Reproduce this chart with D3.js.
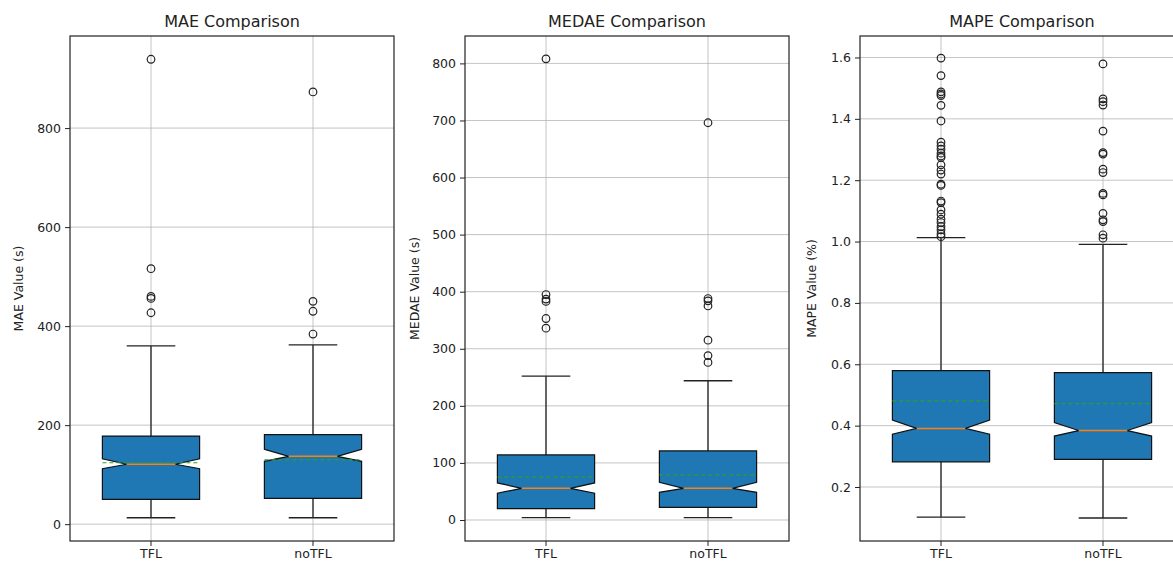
<!DOCTYPE html>
<html>
<head>
<meta charset="utf-8">
<script src="https://cdn.jsdelivr.net/npm/d3@7"></script>
<style>
  body { margin: 0; background: #fff; overflow: hidden; }
  text { font-family: "DejaVu Sans", sans-serif; fill: #222; }
</style>
</head>
<body>
<div id="chart"></div>
<script>
// Figure size
const width = 1173;
const height = 563;

// Groups shown on every panel
const groups = ["TFL", "noTFL"];

// Box stats per group: [whiskerLow, q1, notchLow, median, notchHigh, q3, whiskerHigh, mean]
const maeStats = [
  [13, 50, 112, 121, 132, 178, 360, 124],
  [13, 52, 127, 137, 151, 181, 362, 130]
];
const medaeStats = [
  [4, 20, 47, 55.5, 65, 114, 252, 75],
  [4, 22, 48.5, 55.5, 66, 121, 244, 79]
];
const mapeStats = [
  [0.102, 0.282, 0.372, 0.391, 0.418, 0.579, 1.013, 0.481],
  [0.099, 0.290, 0.366, 0.384, 0.410, 0.573, 0.991, 0.472]
];

// Outliers per group
const maeOutliers = [
  [939, 516, 460, 456, 427],
  [873, 450, 430, 384]
];
const medaeOutliers = [
  [808, 395, 387, 383, 353, 336],
  [696, 388, 384, 375, 315, 288, 276]
];
const mapeOutliers = [
  [1.598, 1.541, 1.488, 1.481, 1.476, 1.444, 1.393, 1.324, 1.312, 1.301, 1.288,
   1.279, 1.274, 1.250, 1.233, 1.220, 1.187, 1.183, 1.132, 1.127, 1.103, 1.089,
   1.073, 1.062, 1.049, 1.038, 1.025, 1.016],
  [1.579, 1.465, 1.456, 1.445, 1.360, 1.290, 1.285, 1.236, 1.225, 1.157, 1.152,
   1.092, 1.071, 1.065, 1.022, 1.011]
];

// Tick labels
const maeTicks = [0, 200, 400, 600, 800];
const medaeTicks = [0, 100, 200, 300, 400, 500, 600, 700, 800];
const mapeTicks = [0.2, 0.4, 0.6, 0.8, 1.0, 1.2, 1.4, 1.6];

const panels = [
  { title: "MAE Comparison", label: "MAE Value (s)", stats: maeStats, outliers: maeOutliers,
    ticks: maeTicks, domain: [-34, 986], fmt: d3.format("d"), left: 70, labelX: 19 },
  { title: "MEDAE Comparison", label: "MEDAE Value (s)", stats: medaeStats, outliers: medaeOutliers,
    ticks: medaeTicks, domain: [-36.8, 848], fmt: d3.format("d"), left: 465, labelX: 415 },
  { title: "MAPE Comparison", label: "MAPE Value (%)", stats: mapeStats, outliers: mapeOutliers,
    ticks: mapeTicks, domain: [0.024, 1.670], fmt: d3.format(".1f"), left: 860, labelX: 812 }
];

const plotTop = 36, plotBottom = 541, panelW = 324;

const svg = d3.select("#chart")
  .append("svg")
  .attr("width", width)
  .attr("height", height);

panels.forEach(p => {
  const g = svg.append("g");

  const x = d3.scaleBand().domain(groups).range([p.left, p.left + panelW]).padding(0);
  const y = d3.scaleLinear().domain(p.domain).range([plotBottom, plotTop]);
  const bw = x.bandwidth();
  const cx = k => x(k) + bw / 2;
  const boxW = bw * 0.6, capW = bw * 0.3;

  // Grid
  g.selectAll(".hgrid").data(p.ticks).enter().append("line")
    .attr("x1", p.left).attr("x2", p.left + panelW)
    .attr("y1", d => y(d)).attr("y2", d => y(d))
    .attr("stroke", "#b0b0b0").attr("stroke-opacity", 0.75).attr("stroke-width", 1);
  g.selectAll(".vgrid").data(groups).enter().append("line")
    .attr("x1", d => cx(d)).attr("x2", d => cx(d))
    .attr("y1", plotTop).attr("y2", plotBottom)
    .attr("stroke", "#b0b0b0").attr("stroke-opacity", 0.75).attr("stroke-width", 1);

  groups.forEach((k, i) => {
    const [wlo, q1, nlo, med, nhi, q3, whi, mean] = p.stats[i];
    const c = cx(k);
    const l = c - boxW / 2, r = c + boxW / 2;
    const il = c - capW / 2, ir = c + capW / 2;

    // Whiskers
    g.append("line").attr("x1", c).attr("x2", c).attr("y1", y(q3)).attr("y2", y(whi))
      .attr("stroke", "#222").attr("stroke-width", 1.3);
    g.append("line").attr("x1", c).attr("x2", c).attr("y1", y(q1)).attr("y2", y(wlo))
      .attr("stroke", "#222").attr("stroke-width", 1.3);
    [wlo, whi].forEach(v => {
      g.append("line").attr("x1", il).attr("x2", ir).attr("y1", y(v)).attr("y2", y(v))
        .attr("stroke", "#222").attr("stroke-width", 1.3);
    });

    // Notched box
    const pts = [
      [l, y(q1)], [l, y(nlo)], [il, y(med)], [l, y(nhi)], [l, y(q3)],
      [r, y(q3)], [r, y(nhi)], [ir, y(med)], [r, y(nlo)], [r, y(q1)]
    ];
    g.append("path")
      .attr("d", d3.line()(pts) + "Z")
      .attr("fill", "#1f77b4")
      .attr("stroke", "#111")
      .attr("stroke-width", 1.2)
      .attr("stroke-linejoin", "miter");

    // Median
    g.append("line").attr("x1", il).attr("x2", ir).attr("y1", y(med)).attr("y2", y(med))
      .attr("stroke", "#ff7f0e").attr("stroke-width", 1.5);
    // Mean
    g.append("line").attr("x1", l).attr("x2", r).attr("y1", y(mean)).attr("y2", y(mean))
      .attr("stroke", "#2ca02c").attr("stroke-width", 1.2).attr("stroke-dasharray", "4,3");

    // Outliers
    g.selectAll(null).data(p.outliers[i]).enter().append("circle")
      .attr("cx", c).attr("cy", d => y(d)).attr("r", 3.8)
      .attr("fill", "none").attr("stroke", "#222").attr("stroke-width", 1.2);
  });

  // Axes
  const yAxis = d3.axisLeft(y).tickValues(p.ticks).tickFormat(p.fmt).tickSize(5).tickPadding(4);
  const ya = g.append("g").attr("transform", `translate(${p.left},0)`).call(yAxis);
  ya.select(".domain").remove();
  ya.selectAll("text").style("font-size", "12.5px").attr("fill", "#222");
  ya.selectAll("line").attr("stroke", "#222");

  const xAxis = d3.axisBottom(x).tickSize(5).tickPadding(3);
  const xa = g.append("g").attr("transform", `translate(0,${plotBottom})`).call(xAxis);
  xa.select(".domain").remove();
  xa.selectAll("text").style("font-size", "12.5px").attr("fill", "#222");
  xa.selectAll("line").attr("stroke", "#222");

  // Frame
  g.append("rect")
    .attr("x", p.left).attr("y", plotTop).attr("width", panelW).attr("height", plotBottom - plotTop)
    .attr("fill", "none").attr("stroke", "#222").attr("stroke-width", 1.2);

  // Title
  g.append("text")
    .attr("x", p.left + panelW / 2).attr("y", 27)
    .attr("text-anchor", "middle")
    .style("font-size", "16px")
    .text(p.title);

  // Y label
  g.append("text")
    .attr("transform", `translate(${p.labelX},${(plotTop + plotBottom) / 2}) rotate(-90)`)
    .attr("text-anchor", "middle")
    .attr("dy", "0.35em")
    .style("font-size", "12.5px")
    .text(p.label);
});
</script>
</body>
</html>
